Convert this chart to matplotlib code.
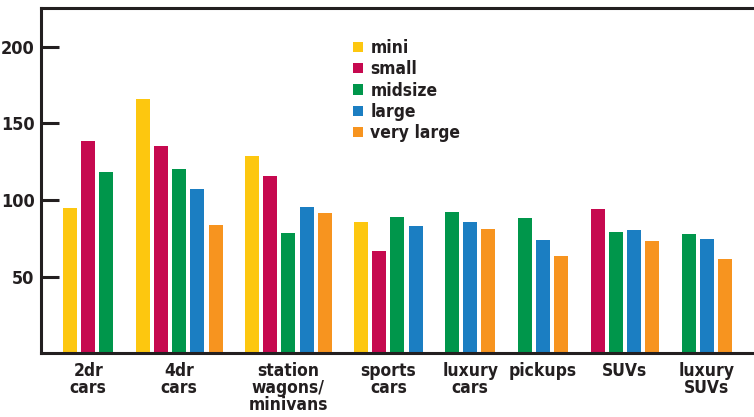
import matplotlib
matplotlib.use("Agg")
import matplotlib.pyplot as plt
from matplotlib.patches import Patch

plt.rcParams['font.family'] = ['DejaVu Sans']
plt.rcParams['font.stretch'] = 'condensed'
plt.rcParams['font.weight'] = 'bold'

categories = ["2dr\ncars", "4dr\ncars", "station\nwagons/\nminivans", "sports\ncars",
              "luxury\ncars", "pickups", "SUVs", "luxury\nSUVs"]
sizes = ["mini", "small", "midsize", "large", "very large"]
colors = ["#FDC70F", "#C6094F", "#00964B", "#1B7EC2", "#F7941F"]

# one list per size class, None where the class has no entry
mini = [95, 166, 129, 86, None, None, None, None]
small = [138.5, 135, 116, 67, None, None, 94, None]
midsize = [118, 120, 78.5, 89, 92, 88, 79, 78]
large = [None, 107, 95.5, 83, 86, 74, 80.5, 74.5]
very_large = [None, 84, 91.5, None, 81, 63.5, 73, 61.5]
series = [mini, small, midsize, large, very_large]

fig = plt.figure(figsize=(7.54, 4.17), dpi=100)
ax = fig.add_axes([0.055, 0.1525, 0.945, 0.8285])

ink = "#231f20"

# bars are packed side by side; one empty slot separates groups
slot = 0
group_centers = []
bar_x = {s: [] for s in range(len(sizes))}
bar_h = {s: [] for s in range(len(sizes))}
for c in range(len(categories)):
    first = slot
    for s, vals in enumerate(series):
        if vals[c] is not None:
            bar_x[s].append(slot)
            bar_h[s].append(vals[c])
            slot += 1
    group_centers.append((first + slot - 1) / 2)
    slot += 1

for s in range(len(sizes)):
    ax.bar(bar_x[s], bar_h[s], width=0.77, color=colors[s], label=sizes[s])

ax.set_xlim(-1.57, 37.6)
ax.set_ylim(0, 225.3)

ax.set_yticks([50, 100, 150, 200])
ax.tick_params(axis='y', direction='in', length=13, width=2.2, color=ink,
               labelsize=13, labelcolor=ink, pad=5)
ax.set_xticks(group_centers)
ax.set_xticklabels(categories, linespacing=0.95)
ax.tick_params(axis='x', length=0, labelsize=12.5, labelcolor=ink, pad=6)

for side in ["left", "bottom", "top"]:
    ax.spines[side].set_linewidth(2.2)
    ax.spines[side].set_color(ink)
ax.spines["right"].set_visible(False)

handles = [Patch(facecolor=c, edgecolor='none') for c in colors]
leg = ax.legend(handles, sizes, loc='upper left', bbox_to_anchor=(353 / 754, 1 - 39 / 417),
                bbox_transform=fig.transFigure, frameon=False, fontsize=12.5,
                handlelength=0.55, handleheight=0.55, handletextpad=0.45,
                labelspacing=0.19, borderpad=0, borderaxespad=0)
for t in leg.get_texts():
    t.set_color(ink)

fig.savefig("out.png", dpi=100)
